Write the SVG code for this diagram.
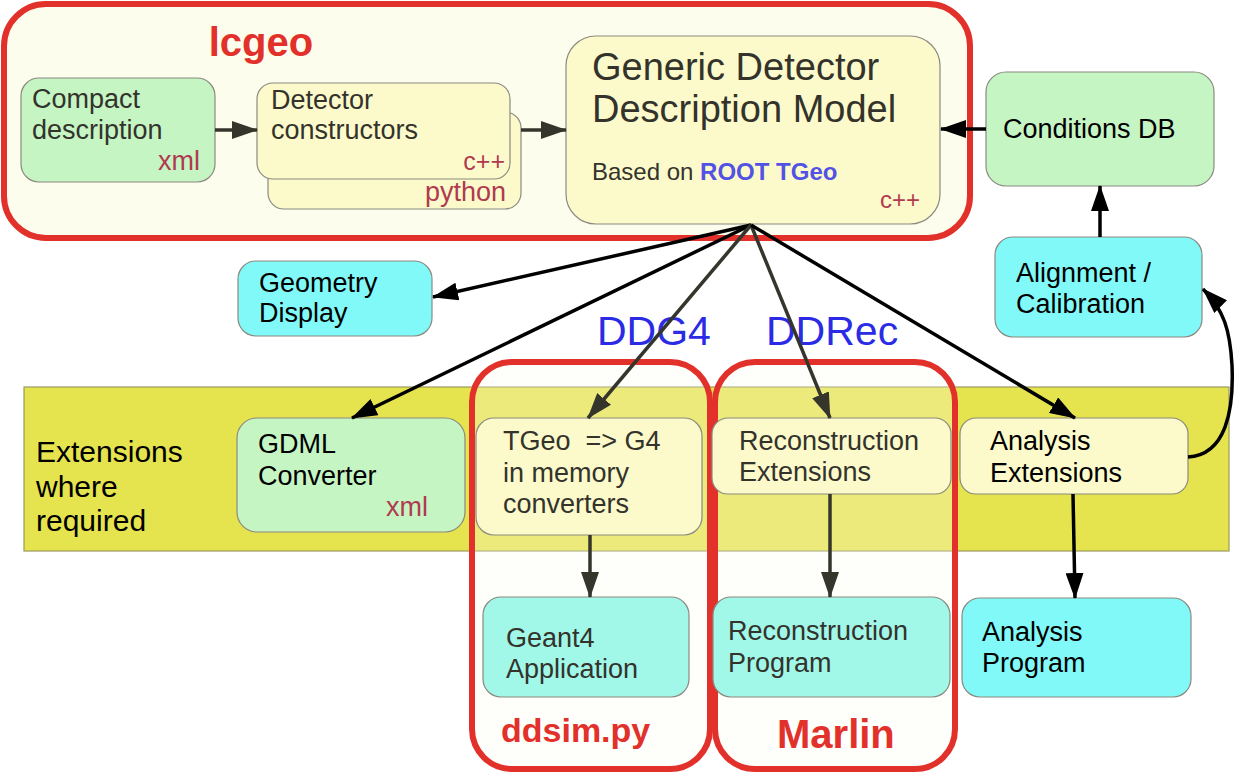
<svg xmlns="http://www.w3.org/2000/svg" width="1235" height="775" viewBox="0 0 1235 775">
<defs>
<style>
text{font-family:"Liberation Sans",Arial,sans-serif;}
.n{stroke:#8a8a80;stroke-width:1.2;}
.green{fill:#c6f5c4;}
.yel{fill:#fcfacb;}
.cyan{fill:#82f9f9;}
.aqua{fill:#a2f8e8;}
.t{font-size:27px;fill:#000;}
.td{font-size:27px;fill:#33332c;}
.lang{font-size:27px;fill:#b03a50;text-anchor:end;}
.red{fill:#e2302a;font-weight:bold;}
.blue{fill:#2b2be6;font-size:41px;}
.grp{fill:#fdfdee;stroke:#e2302a;stroke-width:6;}
.sub{fill:#fdfdee;fill-opacity:0.28;stroke:#e2302a;stroke-width:6;}
.c{fill:none;stroke:#000;stroke-width:3.5;}
.cd{fill:none;stroke:#35352c;stroke-width:3.5;}
</style>
<marker id="ab" viewBox="0 0 26 18" refX="25" refY="9" markerWidth="26" markerHeight="18" markerUnits="userSpaceOnUse" orient="auto"><path d="M0,0 L26,9 L0,18 z" fill="#000"/></marker>
<marker id="ad" viewBox="0 0 26 18" refX="25" refY="9" markerWidth="26" markerHeight="18" markerUnits="userSpaceOnUse" orient="auto"><path d="M0,0 L26,9 L0,18 z" fill="#35352c"/></marker>
</defs>
<rect width="1235" height="775" fill="#fff"/>

<g id="lcgeo">
<rect class="grp" x="4" y="4" width="966" height="234" rx="42"/>
<text class="red" x="261" y="56" style="font-size:40px" text-anchor="middle">lcgeo</text>
</g>

<g id="extensions-band">
<rect x="24" y="387" width="1205" height="164" fill="#e6e44e" stroke="#9a9a60" stroke-width="1.2"/>
<text class="t" x="36" y="462" style="font-size:30px">Extensions</text>
<text class="t" x="36" y="497" style="font-size:30px">where</text>
<text class="t" x="36" y="531" style="font-size:30px">required</text>
</g>

<g id="ddg4">
<rect class="sub" x="472" y="362" width="238" height="407" rx="40"/>
<text class="blue" x="597" y="345">DDG4</text>
<text class="red" x="501" y="742" style="font-size:34px">ddsim.py</text>
</g>

<g id="ddrec">
<rect class="sub" x="715" y="362" width="240" height="407" rx="40"/>
<text class="blue" x="766" y="345">DDRec</text>
<text class="red" x="777" y="748" style="font-size:40px">Marlin</text>
</g>

<g id="compact">
<rect class="n green" x="21" y="78" width="194" height="104" rx="18"/>
<text class="td" x="32" y="108">Compact</text>
<text class="td" x="32" y="139">description</text>
<text class="lang" x="200" y="170">xml</text>
</g>

<g id="detector-constructors">
<rect class="n yel" x="268" y="112" width="253" height="97" rx="16"/>
<rect class="n yel" x="257" y="83" width="253" height="96" rx="16"/>
<text class="td" x="271" y="109">Detector</text>
<text class="td" x="271" y="139">constructors</text>
<text class="lang" x="505" y="170" style="font-size:25px">c++</text>
<text class="lang" x="506" y="201">python</text>
</g>

<g id="gddm">
<rect class="n yel" x="566" y="36" width="374" height="188" rx="30"/>
<text class="td" x="592" y="80" style="font-size:38px">Generic Detector</text>
<text class="td" x="592" y="122" style="font-size:38px">Description Model</text>
<text class="td" x="592" y="180" style="font-size:24px">Based on <tspan fill="#5252e4" font-weight="bold">ROOT TGeo</tspan></text>
<text class="lang" x="920" y="208" style="font-size:24px">c++</text>
</g>

<g id="conditions-db">
<rect class="n green" x="986" y="72" width="228" height="114" rx="20"/>
<text class="t" x="1003" y="138">Conditions DB</text>
</g>

<g id="alignment">
<rect class="n cyan" x="995" y="237" width="207" height="100" rx="18"/>
<text class="t" x="1016" y="282">Alignment /</text>
<text class="t" x="1016" y="313">Calibration</text>
</g>

<g id="geometry-display">
<rect class="n cyan" x="238" y="261" width="194" height="75" rx="18"/>
<text class="t" x="259" y="292">Geometry</text>
<text class="t" x="259" y="322">Display</text>
</g>

<g id="gdml">
<rect class="n green" x="237" y="418" width="228" height="114" rx="20"/>
<text class="t" x="258" y="453">GDML</text>
<text class="t" x="258" y="485">Converter</text>
<text class="lang" x="428" y="516">xml</text>
</g>

<g id="tgeo-g4">
<rect class="n yel" x="476" y="418" width="226" height="117" rx="18"/>
<text class="td" x="503" y="450" xml:space="preserve">TGeo  =&gt; G4</text>
<text class="td" x="503" y="482">in memory</text>
<text class="td" x="503" y="513">converters</text>
</g>

<g id="reco-ext">
<rect class="n yel" x="712" y="418" width="239" height="76" rx="16"/>
<text class="td" x="739" y="450">Reconstruction</text>
<text class="td" x="739" y="481">Extensions</text>
</g>

<g id="analysis-ext">
<rect class="n yel" x="960" y="418" width="228" height="76" rx="16"/>
<text class="t" x="990" y="450">Analysis</text>
<text class="t" x="990" y="482">Extensions</text>
</g>

<g id="geant4">
<rect class="n aqua" x="483" y="597" width="206" height="100" rx="18"/>
<text class="td" x="506" y="647">Geant4</text>
<text class="td" x="506" y="678">Application</text>
</g>

<g id="reco-program">
<rect class="n aqua" x="713" y="597" width="237" height="100" rx="18"/>
<text class="td" x="728" y="640">Reconstruction</text>
<text class="td" x="728" y="672">Program</text>
</g>

<g id="analysis-program">
<rect class="n cyan" x="962" y="598" width="229" height="99" rx="18"/>
<text class="t" x="982" y="641">Analysis</text>
<text class="t" x="982" y="672">Program</text>
</g>

<g id="connectors">
<line class="cd" x1="215" y1="130" x2="257" y2="130" marker-end="url(#ad)"/>
<line class="cd" x1="521" y1="130" x2="566" y2="130" marker-end="url(#ad)"/>
<line class="c" x1="986" y1="129" x2="941" y2="129" stroke-width="5" marker-end="url(#ab)"/>
<line class="c" x1="1100" y1="237" x2="1100" y2="186" stroke-width="4" marker-end="url(#ab)"/>
<line class="c" x1="751" y1="225" x2="433" y2="297" marker-end="url(#ab)"/>
<line class="c" x1="751" y1="225" x2="352" y2="418" marker-end="url(#ab)"/>
<line class="cd" x1="751" y1="225" x2="588" y2="418" marker-end="url(#ad)"/>
<line class="cd" x1="751" y1="225" x2="830" y2="418" marker-end="url(#ad)"/>
<line class="c" x1="751" y1="225" x2="1075" y2="418" marker-end="url(#ab)"/>
<line class="cd" x1="590" y1="535" x2="590" y2="597" marker-end="url(#ad)"/>
<line class="cd" x1="830" y1="494" x2="830" y2="597" marker-end="url(#ad)"/>
<line class="c" x1="1073" y1="494" x2="1075" y2="598" marker-end="url(#ab)"/>
<path class="c" d="M1188,457 C1226,455 1234,410 1232,365 C1230,330 1224,310 1203,289" marker-end="url(#ab)"/>
</g>
</svg>
